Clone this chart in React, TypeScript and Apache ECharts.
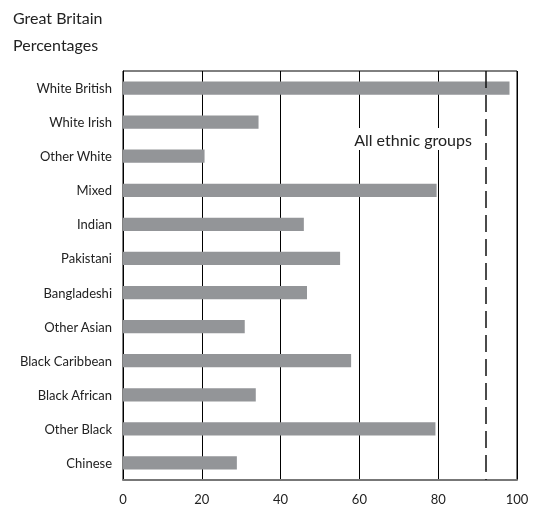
import React, { useEffect, useRef } from "react";
import * as echarts from "echarts";

const categories = [
  "White British",
  "White Irish",
  "Other White",
  "Mixed",
  "Indian",
  "Pakistani",
  "Bangladeshi",
  "Other Asian",
  "Black Caribbean",
  "Black African",
  "Other Black",
  "Chinese",
];
const values = [98.1, 34.4, 20.7, 79.6, 45.9, 55.1, 46.7, 30.9, 57.9, 33.7, 79.3, 28.9];
const allGroupsValue = 92;
const xTicks = [0, 20, 40, 60, 80, 100];
const titleLines = ["Great Britain", "Percentages"];
const annotation = "All ethnic groups";

const FONT = "Lato, 'Noto Sans', sans-serif";

export default function App() {
  const ref = useRef<HTMLDivElement>(null);
  useEffect(() => {
    if (!ref.current) return;
    const chart = echarts.init(ref.current, null, { renderer: "svg" });
    chart.setOption({
      animation: false,
      textStyle: { fontFamily: FONT },
      graphic: [
        {
          type: "text",
          left: 13,
          top: 9,
          style: { text: titleLines[0], font: `16px ${FONT}`, fill: "#222" },
        },
        {
          type: "text",
          left: 13,
          top: 36,
          style: { text: titleLines[1], font: `16px ${FONT}`, fill: "#222" },
        },
        {
          type: "text",
          x: 413,
          y: 139,
          z: 100,
          style: {
            text: annotation,
            font: `16px ${FONT}`,
            fill: "#222",
            align: "center",
            verticalAlign: "middle",
            backgroundColor: "#fff",
            padding: [3, 2],
          },
        },
      ],
      grid: {
        left: 123,
        right: 26,
        top: 71,
        bottom: 28,
        show: true,
        borderColor: "#000",
        borderWidth: 1,
        containLabel: false,
      },
      xAxis: {
        type: "value",
        min: xTicks[0],
        max: xTicks[xTicks.length - 1],
        interval: 20,
        axisLine: { show: true, lineStyle: { color: "#777", width: 2 } },
        axisTick: { show: false },
        axisLabel: { fontSize: 13, color: "#222", margin: 12, fontFamily: FONT },
        splitLine: { show: true, lineStyle: { color: "#000", width: 1 } },
      },
      yAxis: {
        type: "category",
        data: categories,
        inverse: true,
        axisLine: { show: true, lineStyle: { color: "#000", width: 1 } },
        axisTick: { show: false },
        axisLabel: { fontSize: 13, color: "#222", margin: 11, fontFamily: FONT },
        splitLine: { show: false },
      },
      series: [
        {
          type: "bar",
          data: values,
          barWidth: "39%",
          itemStyle: { color: "#939598" },
          z: 2,
          markLine: {
            symbol: "none",
            silent: true,
            label: { show: false },
            lineStyle: { color: "#111", width: 1.5, type: [17, 7] },
            data: [{ xAxis: allGroupsValue }],
          },
        },
      ],
    });
    return () => chart.dispose();
  }, []);
  return (
    <div
      ref={ref}
      style={{ position: "fixed", left: 0, top: 0, width: 543, height: 508 }}
    />
  );
}
